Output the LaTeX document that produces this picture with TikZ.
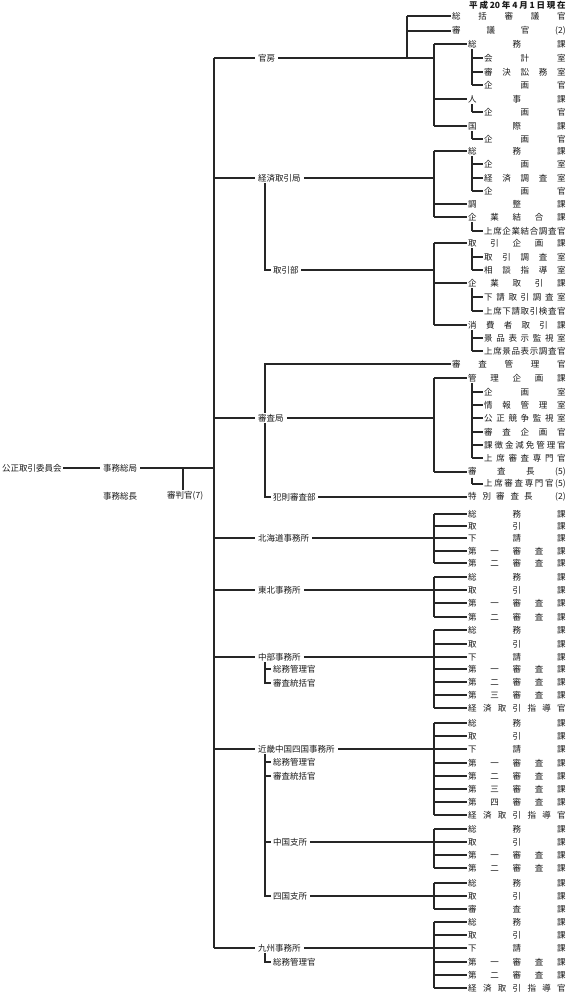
\documentclass[tikz,border=0pt]{standalone}
\usepackage{fontspec}
\newfontfamily\jp{Noto Sans CJK JP}
\tikzset{
 ln/.style={line width=1.1pt, draw=black!85, line join=miter},
 base/.style={font=\jp\fontsize{8.5}{10}\selectfont, text=black!90, inner ysep=1pt},
 ritem/.style={base, anchor=west, inner xsep=1.5pt, xshift=-1.5pt},
 lab/.style={base, anchor=west, inner xsep=3pt},
 slab/.style={base, anchor=west, inner xsep=2.5pt},
}
\newcommand\spreadtext[2]{\hbox to #1{\foreach \zz [count=\zi] in {#2}{\ifnum\zi>1\relax\hfill\fi\zz}}}
\newcommand\ritem[4]{\node[ritem] (#1) at (#2,#3) {\spreadtext{\dimexpr565.5pt-#2pt\relax}{#4}};}
\newcommand\twig[2]{\draw[ln] (#2.west -| #1) -- (#2.west);}
\newcommand\vbar[3]{\draw[ln] (#2 -| #1) -- (#3 -| #1);}
\begin{document}
\begin{tikzpicture}[x=1pt,y=-1pt]
\useasboundingbox (0,0) rectangle (568,994);
\coordinate (X0) at (214,0);
\coordinate (XS) at (265,0);
\coordinate (XK) at (407,0);
\coordinate (X1) at (434,0);
\coordinate (X2) at (472,0);

% header
\node[base, anchor=west, inner xsep=0pt] (date) at (469,5) {\bfseries\spreadtext{96.5pt}{平,成,20,年,4,月,1,日,現,在}};

% left part
\node[base, anchor=west, inner xsep=1.5pt] (iinkai) at (0.5,468) {公正取引委員会};
\node[lab] (somukyoku) at (100,468) {事務総局};
\node[base, anchor=west, inner xsep=3pt] (jimusocho) at (100,496) {事務総長};
\node[base, anchor=west, inner xsep=0pt] (shinpan) at (167,496) {審判官(7)};
\draw[ln] (iinkai.east) -- (somukyoku.west);
\draw[ln] (somukyoku.east) -- (somukyoku.east -| X0);
\coordinate (SP) at (183,468);
\draw[ln] (SP) -- (SP |- shinpan.north);

% ---------- 官房
\node[lab] (kanbo) at (255,58) {官房};
\ritem{a1}{452}{16}{総,括,審,議,官}
\ritem{a2}{452}{31}{審,議,官,(2)}
\ritem{k1}{468}{44}{総,務,課}
\ritem{k1a}{484}{58}{会,計,室}
\ritem{k1b}{484}{72}{審,決,訟,務,室}
\ritem{k1c}{484}{85}{企,画,官}
\ritem{k2}{468}{99}{人,事,課}
\ritem{k2a}{484}{112}{企,画,官}
\ritem{k3}{468}{126}{国,際,課}
\ritem{k3a}{484}{139}{企,画,官}
\draw[ln] (kanbo.west -| X0) -- (kanbo.west);
\draw[ln] (kanbo.east) -- (kanbo.east -| X1);
\vbar{XK}{a1.west}{kanbo.east}
\twig{XK}{a1}\twig{XK}{a2}
\vbar{X1}{k1.west}{k3.west}
\twig{X1}{k1}\twig{X1}{k2}\twig{X1}{k3}
\vbar{X2}{k1.south}{k1c.west}\twig{X2}{k1a}\twig{X2}{k1b}\twig{X2}{k1c}
\vbar{X2}{k2.south}{k2a.west}\twig{X2}{k2a}
\vbar{X2}{k3.south}{k3a.west}\twig{X2}{k3a}

% ---------- 経済取引局
\node[lab] (keizai) at (255,178) {経済取引局};
\ritem{e1}{468}{151}{総,務,課}
\ritem{e1a}{484}{164}{企,画,室}
\ritem{e1b}{484}{178}{経,済,調,査,室}
\ritem{e1c}{484}{191}{企,画,官}
\ritem{e2}{468}{204}{調,整,課}
\ritem{e3}{468}{217}{企,業,結,合,課}
\ritem{e3a}{484}{231}{上,席,企,業,結,合,調,査,官}
\draw[ln] (keizai.west -| X0) -- (keizai.west);
\draw[ln] (keizai.east) -- (keizai.east -| X1);
\vbar{X1}{e1.west}{e3.west}
\twig{X1}{e1}\twig{X1}{e2}\twig{X1}{e3}
\vbar{X2}{e1.south}{e1c.west}\twig{X2}{e1a}\twig{X2}{e1b}\twig{X2}{e1c}
\vbar{X2}{e3.south}{e3a.west}\twig{X2}{e3a}

% 取引部
\node[slab] (torihikibu) at (270.5,270) {取引部};
\ritem{t1}{468}{243}{取,引,企,画,課}
\ritem{t1a}{484}{257}{取,引,調,査,室}
\ritem{t1b}{484}{270}{相,談,指,導,室}
\ritem{t2}{468}{283}{企,業,取,引,課}
\ritem{t2a}{484}{297}{下,請,取,引,調,査,室}
\ritem{t2b}{484}{311}{上,席,下,請,取,引,検,査,官}
\ritem{t3}{468}{325}{消,費,者,取,引,課}
\ritem{t3a}{484}{338}{景,品,表,示,監,視,室}
\ritem{t3b}{484}{351}{上,席,景,品,表,示,調,査,官}
\draw[ln] (keizai.south -| XS) -- (torihikibu.west -| XS) -- (torihikibu.west);
\draw[ln] (torihikibu.east) -- (torihikibu.east -| X1);
\vbar{X1}{t1.west}{t3.west}
\twig{X1}{t1}\twig{X1}{t2}\twig{X1}{t3}
\vbar{X2}{t1.south}{t1b.west}\twig{X2}{t1a}\twig{X2}{t1b}
\vbar{X2}{t2.south}{t2b.west}\twig{X2}{t2a}\twig{X2}{t2b}
\vbar{X2}{t3.south}{t3b.west}\twig{X2}{t3a}\twig{X2}{t3b}

% ---------- 審査局
\node[lab] (shinsa) at (255,418) {審査局};
\ritem{s0}{452}{364}{審,査,管,理,官}
\ritem{s1}{468}{378}{管,理,企,画,課}
\ritem{s1a}{484}{392}{企,画,室}
\ritem{s1b}{484}{405}{情,報,管,理,室}
\ritem{s1c}{484}{418}{公,正,競,争,監,視,室}
\ritem{s1d}{484}{432}{審,査,企,画,官}
\ritem{s1e}{484}{445}{課,徴,金,減,免,管,理,官}
\ritem{s1f}{484}{458}{上,席,審,査,専,門,官}
\ritem{s2}{468}{472}{審,査,長,(5)}
\ritem{s2a}{484}{484}{上,席,審,査,専,門,官,(5)}
\node[ritem] (s3) at (468,497) {\hbox to 97.5pt{特\hspace{6pt}別\hspace{5pt}審\hspace{6pt}査\hspace{5pt}長\hfill(2)}};
\node[slab] (hansoku) at (270.5,497) {犯則審査部};
\draw[ln] (shinsa.west -| X0) -- (shinsa.west);
\draw[ln] (shinsa.east) -- (shinsa.east -| X1);
\draw[ln] (shinsa.north -| XS) -- (s0.west -| XS) -- (s0.west);
\draw[ln] (shinsa.south -| XS) -- (hansoku.west -| XS) -- (hansoku.west);
\draw[ln] (hansoku.east) -- (s3.west);
\vbar{X1}{s1.west}{s2.west}
\twig{X1}{s1}\twig{X1}{s2}
\vbar{X2}{s1.south}{s1f.west}
\twig{X2}{s1a}\twig{X2}{s1b}\twig{X2}{s1c}\twig{X2}{s1d}\twig{X2}{s1e}\twig{X2}{s1f}
\vbar{X2}{s2.south}{s2a.west}\twig{X2}{s2a}

% ---------- 北海道事務所
\node[lab] (hokkaido) at (255,538) {北海道事務所};
\ritem{h1}{468}{514}{総,務,課}
\ritem{h2}{468}{526}{取,引,課}
\ritem{h3}{468}{538}{下,請,課}
\ritem{h4}{468}{551}{第,一,審,査,課}
\ritem{h5}{468}{563}{第,二,審,査,課}
\draw[ln] (hokkaido.west -| X0) -- (hokkaido.west);
\draw[ln] (hokkaido.east) -- (hokkaido.east -| X1);
\vbar{X1}{h1.west}{h5.west}
\twig{X1}{h1}\twig{X1}{h2}\twig{X1}{h3}\twig{X1}{h4}\twig{X1}{h5}

% ---------- 東北事務所
\node[lab] (tohoku) at (255,590) {東北事務所};
\ritem{o1}{468}{577}{総,務,課}
\ritem{o2}{468}{590}{取,引,課}
\ritem{o3}{468}{603}{第,一,審,査,課}
\ritem{o4}{468}{617}{第,二,審,査,課}
\draw[ln] (tohoku.west -| X0) -- (tohoku.west);
\draw[ln] (tohoku.east) -- (tohoku.east -| X1);
\vbar{X1}{o1.west}{o4.west}
\twig{X1}{o1}\twig{X1}{o2}\twig{X1}{o3}\twig{X1}{o4}

% ---------- 中部事務所
\node[lab] (chubu) at (255,657) {中部事務所};
\node[slab] (cb1) at (270.5,669) {総務管理官};
\node[slab] (cb2) at (270.5,683) {審査統括官};
\ritem{c1}{468}{630}{総,務,課}
\ritem{c2}{468}{644}{取,引,課}
\ritem{c3}{468}{657}{下,請,課}
\ritem{c4}{468}{669}{第,一,審,査,課}
\ritem{c5}{468}{682}{第,二,審,査,課}
\ritem{c6}{468}{695}{第,三,審,査,課}
\ritem{c7}{468}{708}{経,済,取,引,指,導,官}
\draw[ln] (chubu.west -| X0) -- (chubu.west);
\draw[ln] (chubu.east) -- (chubu.east -| X1);
\draw[ln] (chubu.south -| XS) -- (cb2.west -| XS) -- (cb2.west);
\twig{XS}{cb1}
\vbar{X1}{c1.west}{c7.west}
\twig{X1}{c1}\twig{X1}{c2}\twig{X1}{c3}\twig{X1}{c4}\twig{X1}{c5}\twig{X1}{c6}\twig{X1}{c7}

% ---------- 近畿中国四国事務所
\node[lab] (kinki) at (255,749) {近畿中国四国事務所};
\node[slab] (kk1) at (270.5,762) {総務管理官};
\node[slab] (kk2) at (270.5,776) {審査統括官};
\node[slab] (chugoku) at (270.5,842) {中国支所};
\node[slab] (shikoku) at (270.5,896) {四国支所};
\ritem{n1}{468}{723}{総,務,課}
\ritem{n2}{468}{736}{取,引,課}
\ritem{n3}{468}{749}{下,請,課}
\ritem{n4}{468}{763}{第,一,審,査,課}
\ritem{n5}{468}{776}{第,二,審,査,課}
\ritem{n6}{468}{789}{第,三,審,査,課}
\ritem{n7}{468}{802}{第,四,審,査,課}
\ritem{n8}{468}{815}{経,済,取,引,指,導,官}
\draw[ln] (kinki.west -| X0) -- (kinki.west);
\draw[ln] (kinki.east) -- (kinki.east -| X1);
\draw[ln] (kinki.south -| XS) -- (shikoku.west -| XS) -- (shikoku.west);
\twig{XS}{kk1}\twig{XS}{kk2}\twig{XS}{chugoku}
\vbar{X1}{n1.west}{n8.west}
\twig{X1}{n1}\twig{X1}{n2}\twig{X1}{n3}\twig{X1}{n4}\twig{X1}{n5}\twig{X1}{n6}\twig{X1}{n7}\twig{X1}{n8}

% 中国支所
\ritem{g1}{468}{829}{総,務,課}
\ritem{g2}{468}{842}{取,引,課}
\ritem{g3}{468}{855}{第,一,審,査,課}
\ritem{g4}{468}{868}{第,二,審,査,課}
\draw[ln] (chugoku.east) -- (chugoku.east -| X1);
\vbar{X1}{g1.west}{g4.west}
\twig{X1}{g1}\twig{X1}{g2}\twig{X1}{g3}\twig{X1}{g4}

% 四国支所
\ritem{p1}{468}{883}{総,務,課}
\ritem{p2}{468}{896}{取,引,課}
\ritem{p3}{468}{909}{審,査,課}
\draw[ln] (shikoku.east) -- (shikoku.east -| X1);
\vbar{X1}{p1.west}{p3.west}
\twig{X1}{p1}\twig{X1}{p2}\twig{X1}{p3}

% ---------- 九州事務所
\node[lab] (kyushu) at (255,948) {九州事務所};
\node[slab] (ks1) at (270.5,962) {総務管理官};
\ritem{q1}{468}{922}{総,務,課}
\ritem{q2}{468}{935}{取,引,課}
\ritem{q3}{468}{948}{下,請,課}
\ritem{q4}{468}{962}{第,一,審,査,課}
\ritem{q5}{468}{975}{第,二,審,査,課}
\ritem{q6}{468}{988}{経,済,取,引,指,導,官}
\draw[ln] (kyushu.west -| X0) -- (kyushu.west);
\draw[ln] (kyushu.east) -- (kyushu.east -| X1);
\draw[ln] (kyushu.south -| XS) -- (ks1.west -| XS) -- (ks1.west);
\vbar{X1}{q1.west}{q6.west}
\twig{X1}{q1}\twig{X1}{q2}\twig{X1}{q3}\twig{X1}{q4}\twig{X1}{q5}\twig{X1}{q6}

% main spine
\vbar{X0}{kanbo.west}{kyushu.west}
\end{tikzpicture}
\end{document}
